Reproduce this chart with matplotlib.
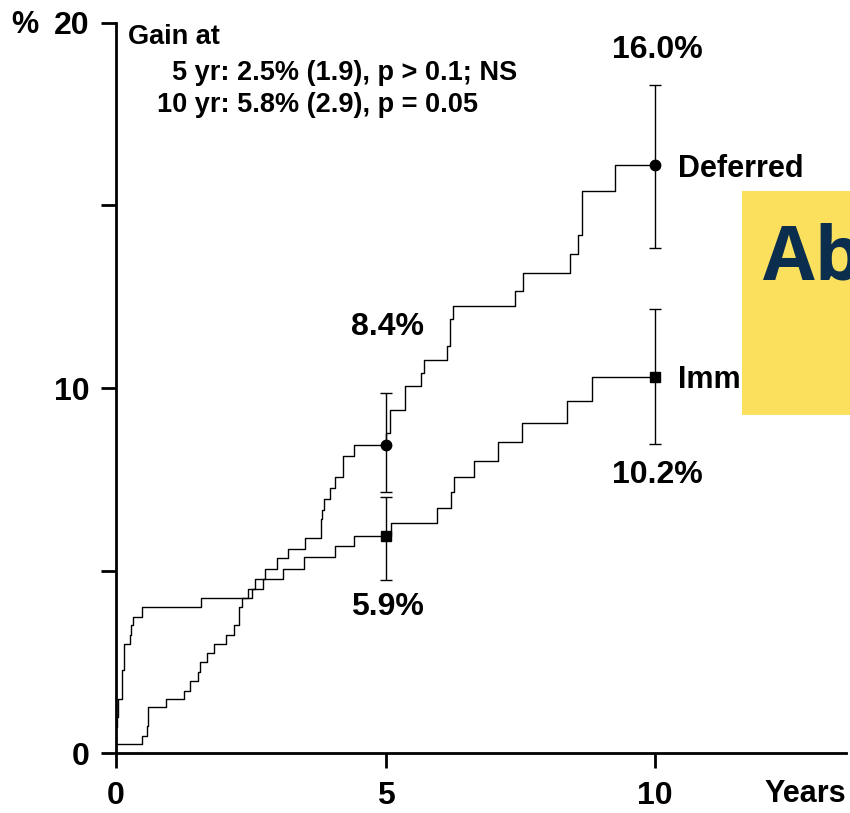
import numpy as np
import matplotlib
matplotlib.use("Agg")
import matplotlib.pyplot as plt
from matplotlib.patches import Rectangle

# cumulative incidence (%) step curves
def_t = [0, 0.01, 0.04, 0.12, 0.15, 0.26, 0.28, 0.32, 0.48, 1.57, 2.45, 2.57, 2.76, 2.98,
         3.20, 3.51, 3.80, 3.83, 3.86, 3.97, 4.06, 4.21, 4.22, 4.42, 5.00, 5.08, 5.36, 5.37,
         5.65, 5.72, 6.15, 6.20, 6.26, 7.40, 7.56, 8.42, 8.57, 8.64, 9.26, 10.0]
def_y = [0.7, 1.0, 1.49, 2.27, 3.0, 3.23, 3.5, 3.73, 4.0, 4.24, 4.5, 4.78, 5.05, 5.33,
         5.6, 5.88, 6.41, 6.67, 6.96, 7.27, 7.55, 7.84, 8.14, 8.45, 8.76, 9.4, 9.73, 10.06,
         10.41, 10.78, 11.15, 11.89, 12.25, 12.66, 13.14, 13.68, 14.2, 15.4, 16.1, 16.1]

imm_t = [0, 0.48, 0.57, 0.60, 0.93, 1.27, 1.37, 1.53, 1.55, 1.69, 1.82, 2.04, 2.19, 2.29,
         2.33, 2.52, 2.73, 3.10, 3.48, 4.06, 4.42, 5.10, 5.95, 6.22, 6.27, 6.64, 7.09, 7.54,
         8.37, 8.83, 10.0]
imm_y = [0.25, 0.47, 0.74, 1.25, 1.48, 1.71, 1.98, 2.23, 2.48, 2.73, 2.99, 3.23, 3.5, 4.0,
         4.26, 4.5, 4.78, 5.05, 5.37, 5.67, 5.95, 6.29, 6.72, 7.16, 7.57, 8.0, 8.51, 9.04,
         9.64, 10.3, 10.3]

# point estimates with confidence limits at 5 and 10 years
est_years = [5, 10]
def_est = [8.45, 16.1]
def_lo = [7.16, 13.84]
def_hi = [9.87, 18.3]
imm_est = [5.95, 10.3]
imm_lo = [4.74, 8.46]
imm_hi = [7.0, 12.16]
def_labels = ["8.4%", "16.0%"]
imm_labels = ["5.9%", "10.2%"]

gain_lines = ["Gain at",
              "5 yr: 2.5% (1.9), p > 0.1; NS",
              "10 yr: 5.8% (2.9), p = 0.05"]

plt.rcParams['font.family'] = ['Liberation Sans', 'DejaVu Sans']
plt.rcParams['font.weight'] = 'bold'

W, H = 850, 813


def fx(px):
    return px / W


def fy(py):
    return 1 - py / H


fig = plt.figure(figsize=(W / 100, H / 100), dpi=100)
ax = fig.add_axes([fx(116), 60 / H, 730 / W, 730 / H])
ax.patch.set_visible(False)

ax.step(def_t, def_y, where='post', color='black', lw=1.0)
ax.step(imm_t, imm_y, where='post', color='black', lw=1.0)

def_err = [np.subtract(def_est, def_lo), np.subtract(def_hi, def_est)]
imm_err = [np.subtract(imm_est, imm_lo), np.subtract(imm_hi, imm_est)]
ax.errorbar(est_years, def_est, yerr=def_err, fmt='o', ms=7.5, color='black',
            elinewidth=1.0, capsize=4, capthick=1.0, zorder=4)
ax.errorbar(est_years, imm_est, yerr=imm_err, fmt='s', ms=7.5, color='black',
            elinewidth=1.0, capsize=4, capthick=1.0, zorder=4)

ax.set_xlim(0, 730 / 53.9)
ax.set_ylim(0, 20)
for s in ['top', 'right']:
    ax.spines[s].set_visible(False)
for s in ['left', 'bottom']:
    ax.spines[s].set_linewidth(2.0)

ax.set_xticks([0, 5, 10])
ax.set_xticklabels(['0', '5', '10'])
ax.set_yticks([0, 5, 10, 15, 20])
ax.set_yticklabels(['0', '', '10', '', '20'])
ax.tick_params(axis='x', direction='out', length=11, width=2.0, labelsize=23, pad=9)
ax.tick_params(axis='y', direction='out', length=11, width=2.0, labelsize=23, pad=8)
for lab in ax.get_xticklabels() + ax.get_yticklabels():
    lab.set_fontweight('bold')

# annotations
fig.text(fx(25), fy(25), '%', ha='center', va='center', fontsize=22)
fig.text(fx(805), fy(794), 'Years', ha='center', va='center', fontsize=22)

ax.annotate(def_labels[0], (5, def_est[0]), xytext=(2, 118), textcoords='offset pixels',
            ha='center', va='center', fontsize=23)
ax.annotate(def_labels[1], (10, def_est[1]), xytext=(2, 115), textcoords='offset pixels',
            ha='center', va='center', fontsize=23)
ax.annotate(imm_labels[0], (5, imm_est[0]), xytext=(2, -71), textcoords='offset pixels',
            ha='center', va='center', fontsize=23)
ax.annotate(imm_labels[1], (10, imm_est[1]), xytext=(2, -98), textcoords='offset pixels',
            ha='center', va='center', fontsize=23)
ax.annotate('Deferred', (10, def_est[1]), xytext=(23, -4), textcoords='offset pixels',
            ha='left', va='center', fontsize=22)
ax.annotate('Imm', (10, imm_est[1]), xytext=(23, -3), textcoords='offset pixels',
            ha='left', va='center', fontsize=22)

fig.text(fx(128), fy(37), gain_lines[0], ha='left', va='center', fontsize=19.5)
fig.text(fx(172), fy(73), gain_lines[1], ha='left', va='center', fontsize=19.5)
fig.text(fx(157), fy(105), gain_lines[2], ha='left', va='center', fontsize=19.5)

# yellow badge clipped at the right edge
fig.patches.append(Rectangle((fx(742), fy(415)), 1 - fx(742) + 0.01, (415 - 191) / H,
                             transform=fig.transFigure, facecolor='#FBE05E',
                             edgecolor='none', zorder=5))
fig.text(fx(763), fy(280), 'Ab', ha='left', va='baseline', fontsize=54,
         fontweight='bold', color='#0B2E4F', family='Open Sans', zorder=6)

fig.savefig('out.png', dpi=100)
